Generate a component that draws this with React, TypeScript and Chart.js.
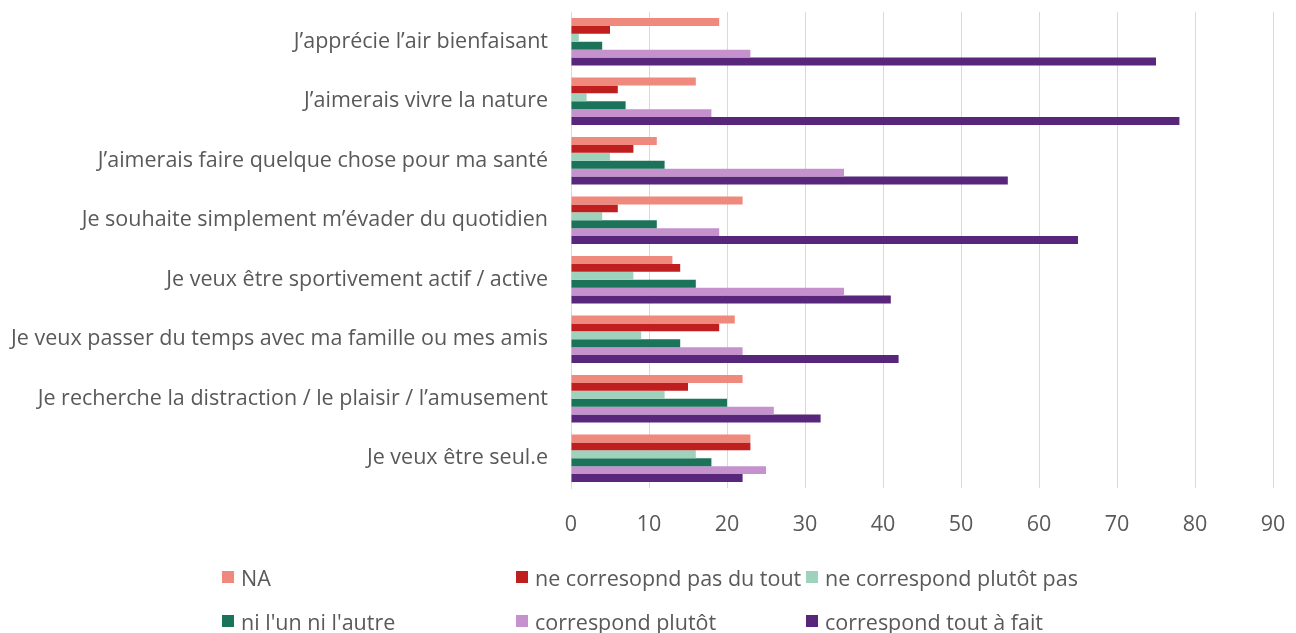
import React, { useEffect, useRef } from "react";
import { Chart, registerables } from "chart.js";

Chart.register(...registerables);

const categories = [
  "J’apprécie l’air bienfaisant",
  "J’aimerais vivre la nature",
  "J’aimerais faire quelque chose pour ma santé",
  "Je souhaite simplement m’évader du quotidien",
  "Je veux être sportivement actif / active",
  "Je veux passer du temps avec ma famille ou mes amis",
  "Je recherche la distraction / le plaisir / l’amusement",
  "Je veux être seul.e",
];

const seriesNames = [
  "NA",
  "ne corresopnd pas du tout",
  "ne correspond plutôt pas",
  "ni l'un ni l'autre",
  "correspond plutôt",
  "correspond tout à fait",
];

const naValues = [19, 16, 11, 22, 13, 21, 22, 23];
const pasDuToutValues = [5, 6, 8, 6, 14, 19, 15, 23];
const plutotPasValues = [1, 2, 5, 4, 8, 9, 12, 16];
const niValues = [4, 7, 12, 11, 16, 14, 20, 18];
const plutotValues = [23, 18, 35, 19, 35, 22, 26, 25];
const toutAFaitValues = [75, 78, 56, 65, 41, 42, 32, 22];

const xTicks = [0, 10, 20, 30, 40, 50, 60, 70, 80, 90];

const colors = ["#F0897D", "#BF1F1F", "#9ED2BC", "#1B7359", "#C592CD", "#58267A"];

const allValues = [naValues, pasDuToutValues, plutotPasValues, niValues, plutotValues, toutAFaitValues];

const FONT = "'Open Sans', 'DejaVu Sans', sans-serif";
const GREY = "#595959";

export default function App() {
  const ref = useRef<HTMLCanvasElement | null>(null);

  useEffect(() => {
    if (!ref.current) return;
    const chart = new Chart(ref.current, {
      type: "bar",
      data: {
        labels: categories,
        datasets: seriesNames.map((name, i) => ({
          label: name,
          data: allValues[i],
          backgroundColor: colors[i],
          borderWidth: 0,
          categoryPercentage: 0.8,
          barPercentage: 1.0,
        })),
      },
      options: {
        indexAxis: "y",
        animation: false,
        responsive: false,
        maintainAspectRatio: false,
        layout: { autoPadding: false, padding: { top: 12, right: 23, bottom: 0, left: 0 } },
        plugins: {
          legend: { display: false },
          tooltip: { enabled: false },
        },
        scales: {
          x: {
            min: 0,
            max: 90,
            afterBuildTicks: (axis: any) => {
              axis.ticks = xTicks.map((v) => ({ value: v }));
            },
            afterFit: (axis: any) => {
              axis.height = 145;
              axis.paddingLeft = 0;
              axis.paddingRight = 0;
              axis.paddingTop = 0;
              axis.paddingBottom = 0;
            },
            grid: { color: "#D9D9D9", drawTicks: false, lineWidth: 1 },
            border: { display: false },
            ticks: {
              color: GREY,
              font: { family: FONT, size: 21.5 },
              padding: 24,
            },
          },
          y: {
            afterFit: (axis: any) => {
              axis.width = 571;
              axis.paddingLeft = 0;
              axis.paddingRight = 0;
              axis.paddingTop = 0;
              axis.paddingBottom = 0;
            },
            grid: { display: false, drawTicks: false },
            border: { display: true, color: "#D9D9D9" },
            ticks: {
              color: GREY,
              font: { family: FONT, size: 21.5 },
              padding: 23,
            },
          },
        },
      },
    });
    return () => chart.destroy();
  }, []);

  const legendPos = [
    [222, 577],
    [516, 577],
    [806, 577],
    [222, 621],
    [516, 621],
    [806, 621],
  ];

  return (
    <div style={{ position: "fixed", left: 0, top: 0, width: 1296, height: 633, background: "#fff" }}>
      <canvas ref={ref} width={1296} height={633} style={{ position: "absolute", left: 0, top: 0 }} />
      {seriesNames.map((name, i) => (
        <div
          key={name}
          style={{
            position: "absolute",
            left: legendPos[i][0],
            top: legendPos[i][1] - 14,
            height: 28,
            display: "flex",
            alignItems: "center",
            fontFamily: FONT,
            fontSize: 21.5,
            color: GREY,
            whiteSpace: "nowrap",
          }}
        >
          <span style={{ display: "inline-block", width: 12, height: 12, background: colors[i], marginRight: 7 }} />
          <span>{name}</span>
        </div>
      ))}
    </div>
  );
}
